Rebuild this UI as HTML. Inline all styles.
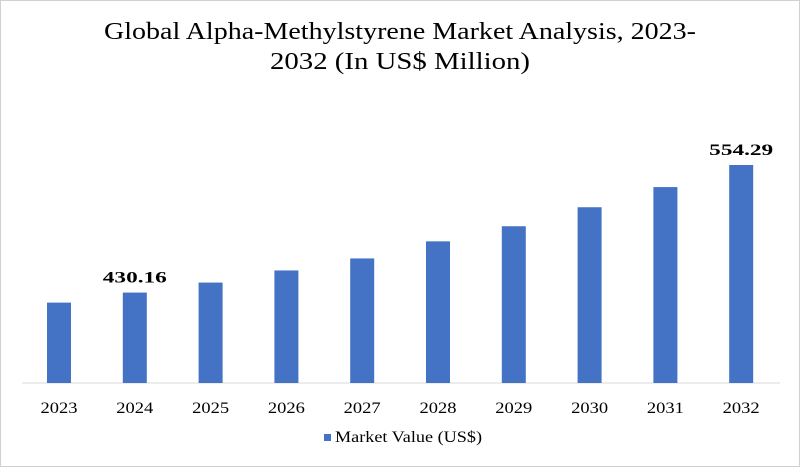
<!DOCTYPE html>
<html><head><meta charset="utf-8"><style>
body{margin:0;background:#fff;}
svg{display:block;font-family:"Liberation Serif",serif;}
</style></head><body>
<svg id="chart" width="800" height="467" viewBox="0 0 800 467">
<rect x="0.5" y="0.5" width="799" height="466" fill="#fff" stroke="#d0d0d0"/>
<text x="400" y="39" text-anchor="middle" font-size="24" textLength="592" lengthAdjust="spacingAndGlyphs" fill="#000">Global Alpha-Methylstyrene Market Analysis, 2023-</text>
<text x="400" y="69" text-anchor="middle" font-size="24" textLength="260" lengthAdjust="spacingAndGlyphs" fill="#000">2032 (In US$ Million)</text>
<line x1="22" y1="383" x2="780" y2="383" stroke="#d9d9d9" stroke-width="1"/>
<g id="bars"></g>
<rect x="324" y="434" width="7" height="7" fill="#4472c4"/>
<text x="335" y="442" font-size="16" textLength="147" lengthAdjust="spacingAndGlyphs" fill="#000">Market Value (US$)</text>
</svg>
<script>
const categories=["2023","2024","2025","2026","2027","2028","2029","2030","2031","2032"];
const values=[420.4,430.16,439.9,451.7,463.4,480.0,494.7,513.2,532.8,554.29];
const labels=["","430.16","","","","","","","","554.29"];
const yMin=342.2, yMax=554.29, baseY=383, topY=165;
function yScale(v){return baseY-(v-yMin)/(yMax-yMin)*(baseY-topY);}
function xScale(i){return 59+i*75.8;}
const g=document.getElementById('bars');
const ns="http://www.w3.org/2000/svg";
categories.forEach((c,i)=>{
  const r=document.createElementNS(ns,'rect');
  const y=yScale(values[i]);
  r.setAttribute('x',xScale(i)-12);r.setAttribute('y',y);
  r.setAttribute('width',24);r.setAttribute('height',baseY-y);
  r.setAttribute('fill','#4472c4');
  
  
  g.appendChild(r);
  const t=document.createElementNS(ns,'text');
  t.setAttribute('x',xScale(i));t.setAttribute('y',413);
  t.setAttribute('text-anchor','middle');t.setAttribute('font-size','16');
  t.setAttribute('textLength','37');t.setAttribute('lengthAdjust','spacingAndGlyphs');
  t.textContent=c;
  
  
  g.appendChild(t);
  if(labels[i]){
    const l=document.createElementNS(ns,'text');
    l.setAttribute('x',xScale(i));l.setAttribute('y',y-10);
    l.setAttribute('text-anchor','middle');l.setAttribute('font-size','16');
    l.setAttribute('font-weight','bold');
    l.setAttribute('textLength','64');l.setAttribute('lengthAdjust','spacingAndGlyphs');
    l.textContent=labels[i];
    
    
    g.appendChild(l);
  }
});
</script>
</body></html>
